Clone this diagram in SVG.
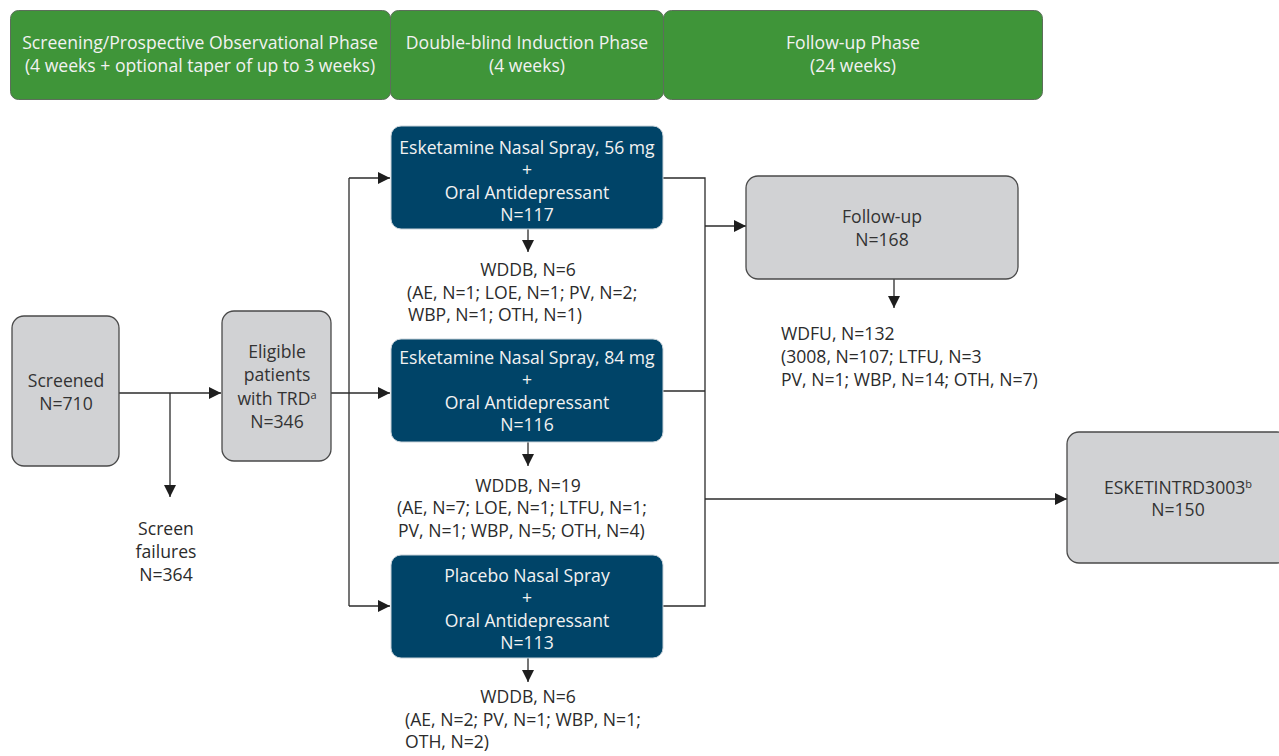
<svg xmlns="http://www.w3.org/2000/svg" width="1279" height="756" viewBox="0 0 1279 756">
<style>
text{font-family:"Open Sans","Liberation Sans",sans-serif;font-size:17.6px}
.hdr rect{fill:#3f9539;stroke:#5c6e5a;stroke-width:1}
.hdr text{fill:#f2f2f2;text-anchor:middle}
.gray rect{fill:#d1d2d4;stroke:#4a4a4a;stroke-width:1.3}
.gray text{fill:#333;text-anchor:middle}
.blue rect{fill:#004468;stroke:#c9d3da;stroke-width:1}
.blue text{fill:#f2f2f2;text-anchor:middle}
.lbl{fill:#2b2b2b}
.c{text-anchor:middle}
.sup{font-size:11px}
#connectors path{fill:none;stroke:#2b2b2b;stroke-width:1.3}
</style>
<defs>
<marker id="ah" markerWidth="12" markerHeight="12" viewBox="0 0 12 12" refX="12" refY="6" orient="auto" markerUnits="userSpaceOnUse">
<path d="M0,0 L12,6 L0,12 Z" fill="#1e1e1e"/>
</marker>
</defs>
<rect width="1279" height="756" fill="#ffffff"/>

<g id="hdr1" class="hdr"><rect x="10.5" y="10.5" width="380" height="89" rx="8"/><text x="200" y="49">Screening/Prospective Observational Phase</text><text x="200" y="72">(4 weeks + optional taper of up to 3 weeks)</text></g>
<g id="hdr2" class="hdr"><rect x="390.5" y="10.5" width="273" height="89" rx="8"/><text x="527" y="49">Double-blind Induction Phase</text><text x="527" y="72">(4 weeks)</text></g>
<g id="hdr3" class="hdr"><rect x="663.5" y="10.5" width="379" height="89" rx="8"/><text x="853" y="49">Follow-up Phase</text><text x="853" y="72">(24 weeks)</text></g>

<g id="connectors">
<path d="M119,393 H221" marker-end="url(#ah)"/>
<path d="M170,393 V497" marker-end="url(#ah)"/>
<path d="M331,393 H390" marker-end="url(#ah)"/>
<path d="M349,178 V606"/>
<path d="M349,178 H390" marker-end="url(#ah)"/>
<path d="M349,606 H390" marker-end="url(#ah)"/>
<path d="M663,178 H705 V606 H663"/>
<path d="M663,391 H705"/>
<path d="M705,226 H746" marker-end="url(#ah)"/>
<path d="M705,499 H1067" marker-end="url(#ah)"/>
<path d="M528,229 V252" marker-end="url(#ah)"/>
<path d="M528,442 V466" marker-end="url(#ah)"/>
<path d="M528,658 V682" marker-end="url(#ah)"/>
<path d="M894,279 V308" marker-end="url(#ah)"/>
</g>

<g id="screened" class="gray"><rect x="12" y="316" width="107" height="150" rx="12"/><text x="66" y="387">Screened</text><text x="66" y="410">N=710</text></g>
<g id="eligible" class="gray"><rect x="222" y="311" width="109" height="150" rx="12"/><text x="277" y="358">Eligible</text><text x="277" y="381">patients</text><text x="277" y="405">with TRD<tspan class="sup" dy="-6">a</tspan></text><text x="277" y="428">N=346</text></g>
<g id="screenfail"><text class="lbl c" x="166" y="535">Screen</text><text class="lbl c" x="166" y="558">failures</text><text class="lbl c" x="166" y="581">N=364</text></g>

<g id="arm56" class="blue"><rect x="391" y="126" width="272" height="103" rx="10"/><text x="527" y="154">Esketamine Nasal Spray, 56 mg</text><text x="527" y="176">+</text><text x="527" y="199">Oral Antidepressant</text><text x="527" y="221">N=117</text></g>
<g id="wddb56"><text class="lbl c" x="528" y="276">WDDB, N=6</text><text class="lbl" x="407" y="299">(AE, N=1; LOE, N=1; PV, N=2;</text><text class="lbl" x="408" y="321">WBP, N=1; OTH, N=1)</text></g>

<g id="arm84" class="blue"><rect x="391" y="339" width="272" height="103" rx="10"/><text x="527" y="364">Esketamine Nasal Spray, 84 mg</text><text x="527" y="386">+</text><text x="527" y="409">Oral Antidepressant</text><text x="527" y="431">N=116</text></g>
<g id="wddb84"><text class="lbl c" x="528" y="492">WDDB, N=19</text><text class="lbl" x="397" y="514">(AE, N=7; LOE, N=1; LTFU, N=1;</text><text class="lbl" x="398" y="537">PV, N=1; WBP, N=5; OTH, N=4)</text></g>

<g id="armpbo" class="blue"><rect x="391" y="555" width="272" height="103" rx="10"/><text x="527" y="582">Placebo Nasal Spray</text><text x="527" y="604">+</text><text x="527" y="627">Oral Antidepressant</text><text x="527" y="649">N=113</text></g>
<g id="wddbpbo"><text class="lbl c" x="528" y="703">WDDB, N=6</text><text class="lbl" x="405" y="726">(AE, N=2; PV, N=1; WBP, N=1;</text><text class="lbl" x="405" y="748">OTH, N=2)</text></g>

<g id="followup" class="gray"><rect x="746" y="176" width="272" height="103" rx="12"/><text x="882" y="223">Follow-up</text><text x="882" y="246">N=168</text></g>
<g id="wdfu"><text class="lbl" x="781" y="340">WDFU, N=132</text><text class="lbl" x="781" y="363">(3008, N=107; LTFU, N=3</text><text class="lbl" x="781" y="386">PV, N=1; WBP, N=14; OTH, N=7)</text></g>

<g id="esket3003" class="gray"><rect x="1067" y="432" width="222" height="131" rx="12"/><text x="1178" y="494">ESKETINTRD3003<tspan class="sup" dy="-6">b</tspan></text><text x="1178" y="516">N=150</text></g>
</svg>
